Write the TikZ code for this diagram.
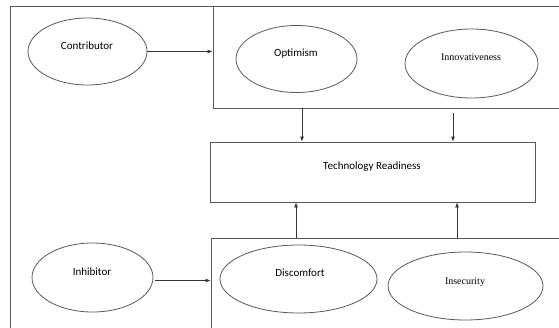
\documentclass[tikz,border=0pt]{standalone}
\usepackage{fontspec}
\setmainfont{Carlito}
\newfontfamily\serifface{Liberation Serif}
\usetikzlibrary{shapes.geometric,arrows.meta,positioning}

\begin{document}
\begin{tikzpicture}[x=1pt,y=-1pt,
  line/.style={draw=black!65,line width=0.8pt},
  factor/.style={line,ellipse,inner sep=0pt},
  group/.style={line,rectangle,inner sep=0pt},
  label/.style={font=\fontsize{11}{13}\selectfont},
  slabel/.style={font=\serifface\fontsize{10}{12}\selectfont},
  arr/.style={line,-{Latex[length=5pt,width=4pt]},black!80}]
\useasboundingbox (0,0) rectangle (559,327);
\clip (0,0) rectangle (559,327);
\fill[white] (0,0) rectangle (559,327);
\draw[line] (10,6) rectangle (580,345);
\node[group,minimum width=367pt,minimum height=102pt] (Contrib) at (396.5,57) {};
\node[group,minimum width=369pt,minimum height=110pt] (Inhib) at (395.5,293) {};
\node[group,minimum width=325pt,minimum height=60pt] (TR) at (372.5,172) {};
\node[label] at (372,167) {Technology Readiness};

\node[factor,minimum width=119pt,minimum height=67pt] (Contributor) at (87.5,51.5) {};
\node[label] at (87,46) {Contributor};
\node[factor,minimum width=121pt,minimum height=67pt] (Optimism) at (296.5,59) {};
\node[label] at (296,54) {Optimism};
\node[factor,minimum width=133pt,minimum height=69pt] (Innovativeness) at (471.5,63.5) {};
\node[slabel] at (471,57) {Innovativeness};
\node[factor,minimum width=121pt,minimum height=69pt] (Inhibitor) at (92.5,277.5) {};
\node[label] at (92,272) {Inhibitor};
\node[factor,minimum width=157pt,minimum height=68pt] (Discomfort) at (298.5,279) {};
\node[label] at (300,273) {Discomfort};
\node[factor,minimum width=155pt,minimum height=68pt] (Insecurity) at (465.5,286) {};
\node[slabel] at (465,282) {Insecurity};

\coordinate (a1) at (302,0);
\coordinate (a2) at (453,0);
\coordinate (b1) at (296,0);
\coordinate (b2) at (457,0);
\draw[arr] (Contributor.east) -- (Contributor.east -| Contrib.west);
\draw[arr] ([yshift=-3pt,xshift=2pt]Inhibitor.east) -- ([yshift=-3pt]Inhibitor.east -| Inhib.west);
\draw[arr] (Contrib.south -| a1) -- (TR.north -| a1);
\draw[arr,shorten <=5pt] (Contrib.south -| a2) -- (TR.north -| a2);
\draw[arr] (Inhib.north -| b1) -- (TR.south -| b1);
\draw[arr] (Inhib.north -| b2) -- (TR.south -| b2);
\end{tikzpicture}
\end{document}
